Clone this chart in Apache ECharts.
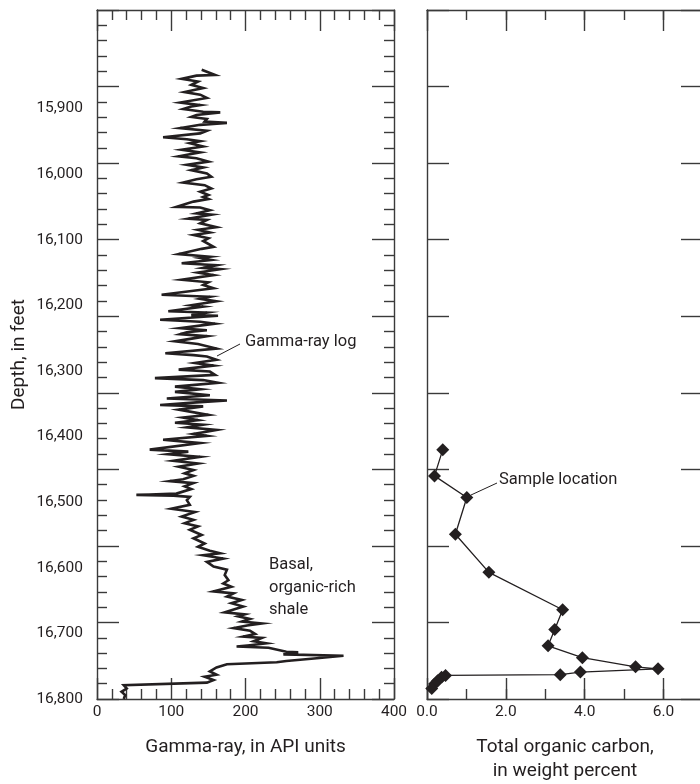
<!DOCTYPE html>
<html>
<head>
<meta charset="utf-8">
<script src="https://cdn.jsdelivr.net/npm/echarts@6.0.0/dist/echarts.min.js"></script>
<style>
  html, body { margin: 0; padding: 0; background: #fff; }
  #chart { width: 700px; height: 784px; }
</style>
</head>
<body>
<div id="chart"></div>
<script>
// depth scale labels (feet)
const depthLabels = [15900, 16000, 16100, 16200, 16300, 16400, 16500, 16600, 16700, 16800];

// gamma-ray log: depth (ft) and gamma (API)
const gammaDepth = [
  15841, 15849, 15850, 15855, 15859, 15864, 15869, 15875, 15879, 15884, 15887, 15891, 15895, 15897, 15901,
  15905, 15906, 15910, 15913, 15916, 15920, 15922, 15925, 15930, 15934, 15938, 15944, 15947, 15950, 15953,
  15958, 15963, 15967, 15973, 15976, 15981, 15986, 15990, 15994, 15999, 16004, 16008, 16013, 16017, 16022,
  16027, 16032, 16035, 16038, 16042, 16050, 16051, 16055, 16060, 16062, 16068, 16070, 16075, 16081, 16085,
  16089, 16093, 16098, 16102, 16111, 16114, 16122, 16126, 16128, 16131, 16136, 16139, 16143, 16145, 16150,
  16154, 16161, 16165, 16169, 16174, 16184, 16187, 16190, 16194, 16200, 16202, 16209, 16211, 16215, 16216,
  16222, 16225, 16228, 16235, 16238, 16241, 16244, 16247, 16255, 16259, 16266, 16273, 16276, 16278, 16283,
  16288, 16292, 16298, 16301, 16306, 16311, 16314, 16318, 16324, 16328, 16332, 16337, 16342, 16345, 16348,
  16352, 16354, 16359, 16367, 16371, 16375, 16379, 16382, 16386, 16390, 16396, 16399, 16405, 16410, 16420,
  16423, 16427, 16431, 16437, 16441, 16446, 16451, 16456, 16460, 16465, 16468, 16471, 16476, 16480, 16487,
  16489, 16490, 16492, 16497, 16504, 16510, 16515, 16522, 16527, 16532, 16537, 16542, 16550, 16555, 16563,
  16568, 16574, 16578, 16581, 16586, 16591, 16598, 16603, 16611, 16614, 16619, 16624, 16629, 16636, 16639,
  16644, 16649, 16654, 16659, 16668, 16671, 16674, 16678, 16682, 16685, 16688, 16692, 16696, 16701, 16705,
  16707, 16712, 16715, 16718, 16720, 16722, 16728, 16729, 16732, 16734, 16738, 16742, 16744, 16747, 16752,
  16758, 16763, 16766, 16771, 16775, 16779, 16784, 16789, 16794, 16800
];
const gammaValue = [
  141, 159, 134, 114, 136, 127, 143, 118, 139, 148, 150, 112, 139, 127, 116,
  143, 166, 134, 127, 148, 145, 175, 139, 112, 148, 139, 89, 121, 139, 125,
  143, 114, 139, 110, 134, 150, 121, 143, 127, 148, 154, 134, 116, 145, 154,
  139, 150, 143, 150, 130, 107, 139, 152, 134, 154, 123, 148, 139, 161, 136,
  152, 130, 150, 143, 157, 141, 110, 152, 139, 154, 114, 161, 143, 166, 136,
  157, 114, 150, 143, 157, 87, 152, 139, 161, 127, 143, 96, 148, 127, 163,
  85, 139, 159, 112, 148, 121, 112, 148, 105, 136, 161, 92, 130, 148, 161,
  132, 157, 110, 152, 159, 78, 143, 163, 105, 139, 105, 152, 94, 175, 134,
  85, 143, 110, 150, 116, 136, 105, 143, 121, 161, 130, 148, 89, 139, 71,
  123, 96, 139, 103, 136, 110, 130, 118, 130, 116, 98, 130, 118, 127, 107,
  53, 103, 125, 121, 125, 100, 132, 114, 130, 118, 136, 125, 141, 130, 145,
  136, 152, 166, 143, 170, 148, 157, 175, 172, 172, 177, 170, 181, 157, 184,
  175, 195, 181, 197, 172, 199, 190, 206, 195, 222, 202, 184, 206, 213, 197,
  222, 211, 228, 206, 188, 231, 255, 271, 251, 332, 296, 255, 242, 175, 161,
  152, 161, 145, 157, 148, 36, 40, 33, 38, 36
];

// total organic carbon samples: depth (ft) and TOC (wt %)
const tocDepth = [16420, 16460, 16493, 16549, 16607, 16664, 16694, 16719, 16737, 16751, 16754, 16759, 16763, 16764, 16767, 16772, 16777, 16784];
const tocValue = [0.40, 0.19, 1.01, 0.72, 1.57, 3.44, 3.24, 3.07, 3.94, 5.29, 5.86, 3.89, 3.38, 0.47, 0.37, 0.27, 0.19, 0.12];

const ink = '#231f20';
const frame = '#3a3a3a';
const font = 'Roboto';

const chart = echarts.init(document.getElementById('chart'), null, { renderer: 'canvas' });

const lineFrame = { color: frame, width: 1.4 };

// every axis: value type, no split lines, line never snapped to zero of the other axis
function axis(opts) {
  return Object.assign({
    type: 'value',
    axisLine: { show: false, onZero: false, lineStyle: lineFrame },
    axisTick: { show: true, inside: true, length: 22, lineStyle: lineFrame },
    axisLabel: { show: false },
    splitLine: { show: false }
  }, opts);
}
const shownLine = { show: true, onZero: false, lineStyle: lineFrame };
const hiddenLine = { show: false, onZero: false };
const labelStyle = { color: ink, fontFamily: font, fontSize: 15.5 };
const nameStyle = { color: ink, fontFamily: font, fontSize: 19, lineHeight: 24, verticalAlign: 'top' };

const option = {
  animation: false,
  backgroundColor: '#fff',
  grid: [
    { left: 97, top: 10, width: 297, height: 689, outerBoundsMode: 'none' },
    { left: 427, top: 10, width: 276, height: 689, outerBoundsMode: 'none' }
  ],
  xAxis: [
    axis({
      gridIndex: 0, position: 'bottom', min: 0, max: 400, interval: 100,
      axisLine: shownLine,
      axisTick: { inside: true, length: 21, lineStyle: lineFrame },
      minorTick: { show: true, splitNumber: 5, length: 10, lineStyle: lineFrame },
      axisLabel: Object.assign({ margin: 5 }, labelStyle),
      name: 'Gamma-ray, in API units', nameLocation: 'middle', nameGap: 36,
      nameTextStyle: nameStyle
    }),
    axis({
      gridIndex: 0, position: 'top', min: 0, max: 400, interval: 100,
      axisLine: shownLine,
      axisTick: { inside: true, length: 21, lineStyle: lineFrame },
      minorTick: { show: true, splitNumber: 5, length: 10, lineStyle: lineFrame }
    }),
    axis({
      gridIndex: 1, position: 'bottom', min: 0, max: 7, interval: 2,
      axisLine: shownLine,
      axisTick: { inside: true, length: 21, lineStyle: lineFrame },
      axisLabel: Object.assign({ margin: 5, formatter: v => (v > 6.5 ? '' : v.toFixed(1)) }, labelStyle),
      name: 'Total organic carbon,\nin weight percent', nameLocation: 'middle', nameGap: 36,
      nameTextStyle: nameStyle
    }),
    axis({
      gridIndex: 1, position: 'bottom', min: 0, max: 7, interval: 1,
      axisLine: hiddenLine,
      axisTick: { inside: true, length: 10, lineStyle: lineFrame }
    }),
    axis({
      gridIndex: 1, position: 'top', min: 0, max: 7, interval: 2,
      axisLine: shownLine,
      axisTick: { inside: true, length: 21, lineStyle: lineFrame }
    }),
    axis({
      gridIndex: 1, position: 'top', min: 0, max: 7, interval: 1,
      axisLine: hiddenLine,
      axisTick: { inside: true, length: 10, lineStyle: lineFrame }
    })
  ],
  yAxis: [
    axis({
      gridIndex: 0, position: 'left', min: 15750, max: 16800, inverse: true,
      axisLine: shownLine,
      axisTick: { show: false },
      axisLabel: Object.assign({
        show: true, customValues: depthLabels, margin: 14,
        formatter: v => v.toLocaleString('en-US')
      }, labelStyle),
      name: 'Depth, in feet', nameLocation: 'middle', nameGap: 66,
      nameTextStyle: { color: ink, fontFamily: font, fontSize: 19, lineHeight: 24 }
    }),
    axis({
      gridIndex: 0, position: 'left', min: 0, max: 9, interval: 1, inverse: true,
      axisLine: hiddenLine,
      minorTick: { show: true, splitNumber: 5, length: 10, lineStyle: lineFrame }
    }),
    axis({
      gridIndex: 0, position: 'right', min: 0, max: 9, interval: 1, inverse: true,
      axisLine: shownLine,
      minorTick: { show: true, splitNumber: 5, length: 10, lineStyle: lineFrame }
    }),
    axis({
      gridIndex: 1, position: 'left', min: 15750, max: 16800, inverse: true,
      axisLine: shownLine,
      axisTick: { show: false }
    }),
    axis({ gridIndex: 1, position: 'left', min: 0, max: 9, interval: 1, inverse: true, axisLine: hiddenLine }),
    axis({ gridIndex: 1, position: 'right', min: 0, max: 9, interval: 1, inverse: true, axisLine: shownLine })
  ],
  series: [
    {
      name: 'Gamma-ray log',
      type: 'line',
      xAxisIndex: 0,
      yAxisIndex: 0,
      data: gammaDepth.map((d, i) => [gammaValue[i], d]),
      showSymbol: false,
      lineStyle: { color: ink, width: 2.6, join: 'miter' }
    },
    {
      name: 'Sample location',
      type: 'line',
      xAxisIndex: 2,
      yAxisIndex: 3,
      data: tocDepth.map((d, i) => [tocValue[i], d]),
      symbol: 'diamond',
      symbolSize: 13,
      itemStyle: { color: ink },
      lineStyle: { color: ink, width: 1.3 }
    }
  ],
  graphic: [
    { type: 'line', shape: { x1: 217, y1: 356, x2: 240, y2: 344 }, style: { stroke: ink, lineWidth: 1 } },
    { type: 'text', x: 245, y: 342, style: { text: 'Gamma-ray log', font: '16.5px Roboto', fill: ink, verticalAlign: 'middle' } },
    { type: 'text', x: 269, y: 565, style: { text: 'Basal,', font: '16.5px Roboto', fill: ink, verticalAlign: 'middle' } },
    { type: 'text', x: 269, y: 588, style: { text: 'organic-rich', font: '16.5px Roboto', fill: ink, verticalAlign: 'middle' } },
    { type: 'text', x: 269, y: 610, style: { text: 'shale', font: '16.5px Roboto', fill: ink, verticalAlign: 'middle' } },
    { type: 'line', shape: { x1: 471, y1: 495, x2: 497, y2: 483 }, style: { stroke: ink, lineWidth: 1 } },
    { type: 'text', x: 499, y: 480, style: { text: 'Sample location', font: '16.5px Roboto', fill: ink, verticalAlign: 'middle' } }
  ]
};

chart.setOption(option);
</script>
</body>
</html>
